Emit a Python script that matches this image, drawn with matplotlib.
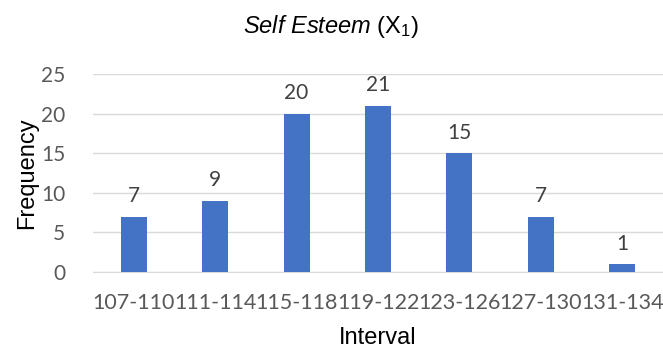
import matplotlib
matplotlib.use("Agg")
import matplotlib.pyplot as plt
import numpy as np

plt.rcParams["mathtext.fontset"] = "custom"
plt.rcParams["mathtext.rm"] = "Liberation Sans"
plt.rcParams["mathtext.it"] = "Liberation Sans:italic"

categories = ["107-110", "111-114", "115-118", "119-122", "123-126", "127-130", "131-134"]
frequency = [7, 9, 20, 21, 15, 7, 1]
yticks = [0, 5, 10, 15, 20, 25]

fig = plt.figure(figsize=(6.63, 3.51), dpi=100)
ax = fig.add_axes([93/663, 1-272/351, 570/663, (272-74)/351])

x = np.arange(len(categories))
ax.bar(x, frequency, width=0.32, color="#4472C4", zorder=3)
for xi, v in zip(x, frequency):
    ax.text(xi, v + 1.3, str(v), ha="center", va="bottom", fontsize=15,
            color="#404040", family="Lato")

ax.set_xlim(-0.5, len(categories) - 0.5)
ax.set_ylim(0, 25)
ax.set_yticks(yticks)
ax.set_xticks(x)
ax.set_xticklabels(categories, fontsize=15.5, color="#595959", family="Lato")
ax.set_yticklabels([str(t) for t in yticks], fontsize=15, color="#595959", family="Lato")
ax.yaxis.grid(True, color="#D9D9D9", linewidth=1, zorder=0)
for s in ["top", "right", "left"]:
    ax.spines[s].set_visible(False)
ax.spines["bottom"].set_color("#D9D9D9")
ax.tick_params(axis="both", length=0)
ax.tick_params(axis="x", pad=15)
ax.tick_params(axis="y", pad=20)

ax.set_xlabel("Interval", fontsize=17, family="Liberation Sans", labelpad=10)
ax.set_ylabel("Frequency", fontsize=17, family="Liberation Sans", labelpad=2)
fig.text(0.5, 1-27/351, r"$\it{Self\ Esteem}$ (X$_1$)", ha="center", va="center",
         fontsize=17, family="Liberation Sans")

fig.savefig("out.png", dpi=100)
